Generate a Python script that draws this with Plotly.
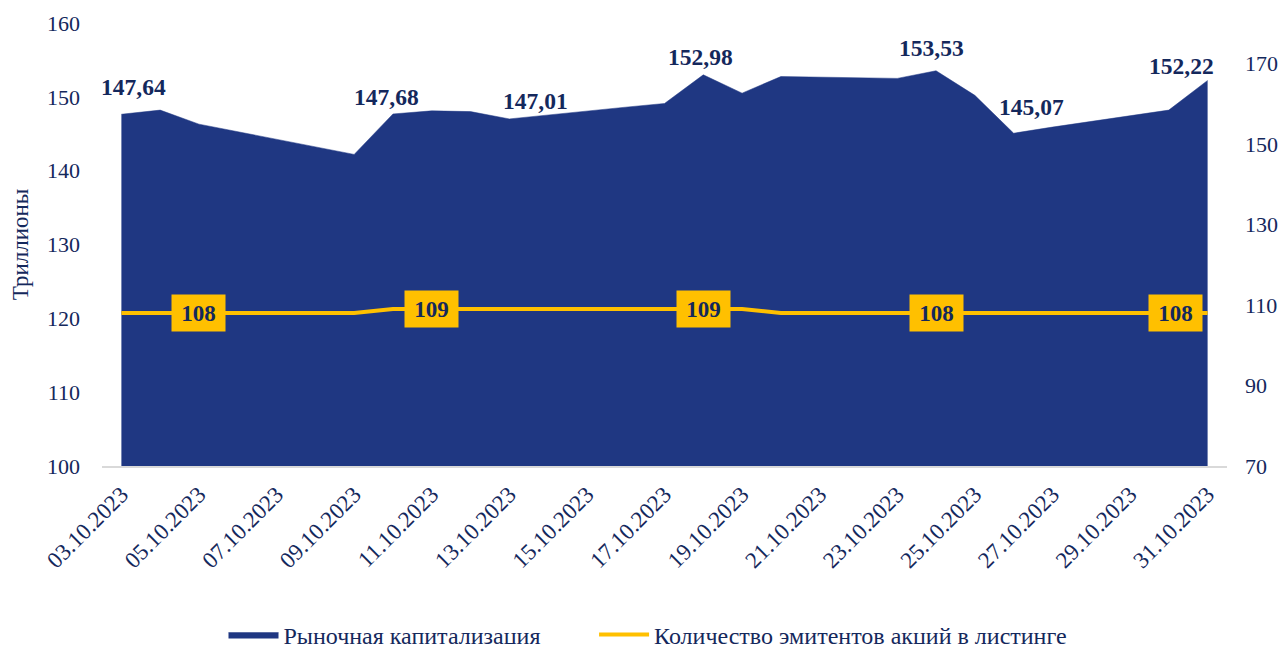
import plotly.graph_objects as go

# Trading days, October 2023
dates = ["2023-10-03", "2023-10-04", "2023-10-05", "2023-10-06", "2023-10-09",
         "2023-10-10", "2023-10-11", "2023-10-12", "2023-10-13", "2023-10-16",
         "2023-10-17", "2023-10-18", "2023-10-19", "2023-10-20", "2023-10-23",
         "2023-10-24", "2023-10-25", "2023-10-26", "2023-10-27", "2023-10-30",
         "2023-10-31"]

# Market capitalisation, trillions
market_cap = [147.64, 148.2, 146.3, 145.3, 142.2,
              147.68, 148.1, 148.0, 147.01, 148.6,
              149.1, 152.98, 150.5, 152.75, 152.5,
              153.53, 150.2, 145.07, 145.9, 148.2,
              152.22]

# Number of listed share issuers
issuers = [108, 108, 108, 108, 108,
           109, 109, 109, 109, 109,
           109, 109, 109, 108, 108,
           108, 108, 108, 108, 108,
           108]

# which points carry a value label, with manual offsets (x, y) in px
cap_labels = {0: (12, 27), 5: (-6, 17), 8: (26, 18), 11: (-3, 18),
              15: (-5, 23), 17: (18, 26), 20: (-26, 14)}
issuer_labels = {2: 0, 6: 0, 11: 0, 15: 0, 20: -32}

FONT = "Liberation Serif, Times New Roman, serif"
NAVY = "#14285C"
BLUE = "#1F3782"
GOLD = "#FFC000"

fig = go.Figure()

fig.add_trace(go.Scatter(
    x=dates, y=market_cap, name="Рыночная капитализация",
    mode="lines", fill="tozeroy", fillcolor=BLUE,
    line=dict(color=BLUE, width=0.5), legend="legend",
))

fig.add_trace(go.Scatter(
    x=dates, y=issuers, name="Количество эмитентов акций в листинге",
    mode="lines", line=dict(color=GOLD, width=4), yaxis="y2",
    legend="legend2",
))

# data labels on the area
for i, (dx, dy) in cap_labels.items():
    fig.add_annotation(
        x=dates[i], y=market_cap[i], yref="y", showarrow=False,
        text="<b>%s</b>" % f"{market_cap[i]:.2f}".replace(".", ","),
        xshift=dx, yshift=dy,
        font=dict(family=FONT, size=23.5, color=NAVY),
    )

# boxed labels on the issuers line
for i, dx in issuer_labels.items():
    fig.add_annotation(
        x=dates[i], y=issuers[i], yref="y2", showarrow=False,
        text="<b>%d</b>" % issuers[i], xshift=dx,
        bgcolor=GOLD, width=49, height=32, borderpad=2,
        font=dict(family=FONT, size=23, color=NAVY),
    )

legend_style = dict(orientation="h", xanchor="left", y=-0.3815, yanchor="middle",
                    font=dict(size=24, color=NAVY), itemwidth=50,
                    bgcolor="rgba(0,0,0,0)")

# page body keeps an 8px margin, so the figure is sized to fit inside the window
fig.update_layout(
    width=1272, height=636,
    margin=dict(l=94, r=53, t=15, b=178, autoexpand=False),
    paper_bgcolor="white", plot_bgcolor="white",
    font=dict(family=FONT, size=22, color=NAVY),
    showlegend=True,
    legend=dict(x=0.108, **legend_style),
    legend2=dict(x=0.4374, **legend_style),
    xaxis=dict(
        type="date", range=["2023-10-02 12:00", "2023-10-31 12:00"],
        tick0="2023-10-03", dtick=2 * 86400000, tickformat="%d.%m.%Y",
        tickangle=-45, showgrid=False, showline=True, linecolor="#D9D9D9",
        linewidth=2, ticks="", tickfont=dict(size=23, color=NAVY),
        automargin=False, ticklabelstandoff=4,
    ),
    yaxis=dict(
        range=[100, 160], dtick=10, showgrid=False, zeroline=False,
        title=dict(text="Триллионы", font=dict(size=23, color=NAVY), standoff=29),
        tickfont=dict(size=22, color=NAVY), ticks="",
        automargin=False, ticklabelstandoff=21,
    ),
    yaxis2=dict(
        overlaying="y", side="right", range=[70, 180], tick0=70, dtick=20,
        showgrid=False, zeroline=False, tickfont=dict(size=22, color=NAVY),
        ticks="", automargin=False, ticklabelstandoff=17,
    ),
)

fig.write_html("out.html")
